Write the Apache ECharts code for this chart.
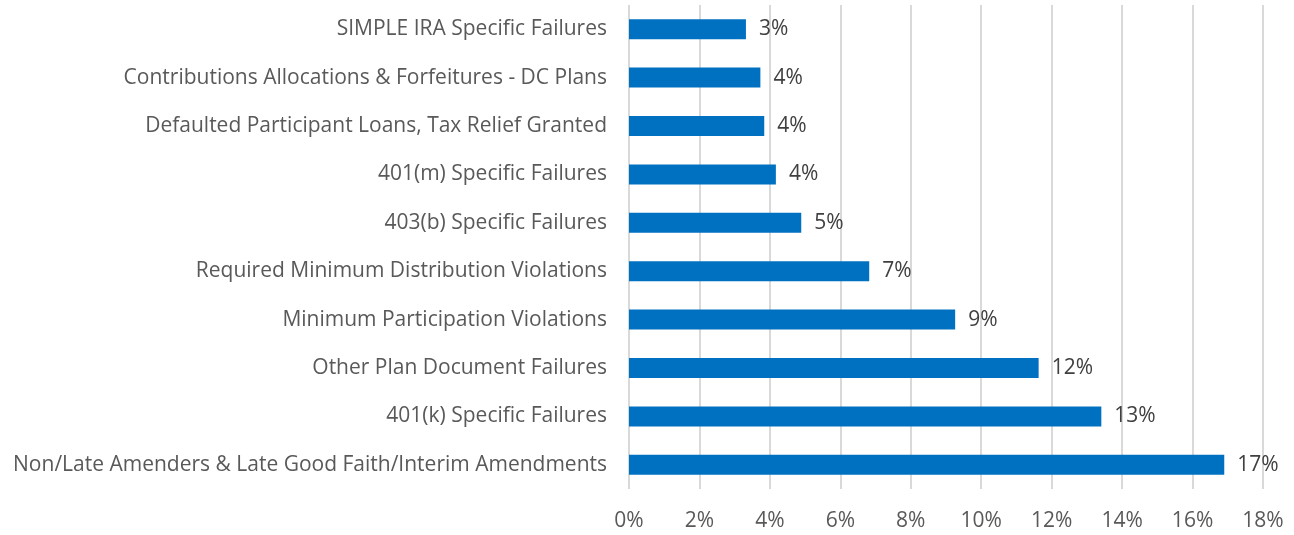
<!DOCTYPE html>
<html>
<head>
<meta charset="utf-8">
<script src="https://cdn.jsdelivr.net/npm/echarts@6/dist/echarts.min.js"></script>
<style>
html,body{margin:0;padding:0;background:#fff;}
#chart{width:1294px;height:535px;}
</style>
</head>
<body>
<div id="chart"></div>
<script>
// categories, bottom to top
var categories = [
    'Non/Late Amenders & Late Good Faith/Interim Amendments',
    '401(k) Specific Failures',
    'Other Plan Document Failures',
    'Minimum Participation Violations',
    'Required Minimum Distribution Violations',
    '403(b) Specific Failures',
    '401(m) Specific Failures',
    'Defaulted Participant Loans, Tax Relief Granted',
    'Contributions Allocations & Forfeitures - DC Plans',
    'SIMPLE IRA Specific Failures'
];
// percent values
var values = [16.9, 13.41, 11.63, 9.26, 6.82, 4.89, 4.17, 3.84, 3.73, 3.32];
var xTicks = [0, 2, 4, 6, 8, 10, 12, 14, 16, 18];

var fontFam = '"Open Sans", sans-serif';
var myChart = echarts.init(document.getElementById('chart'));
var option = {
    animation: false,
    grid: { left: 629, right: 31, top: 5, bottom: 46, containLabel: false },
    xAxis: {
        type: 'value',
        min: xTicks[0],
        max: xTicks[xTicks.length - 1],
        interval: 2,
        axisLine: { show: false },
        axisTick: { show: false },
        splitLine: { lineStyle: { color: '#d9d9d9', width: 2 } },
        axisLabel: {
            margin: 22,
            color: '#595959',
            fontSize: 21,
            fontFamily: fontFam,
            formatter: function (v) { return v + '%'; }
        }
    },
    yAxis: {
        type: 'category',
        data: categories,
        axisLine: { show: false },
        axisTick: { show: false },
        axisLabel: {
            margin: 22,
            color: '#595959',
            fontSize: 21,
            fontFamily: fontFam
        }
    },
    series: [{
        type: 'bar',
        data: values,
        barWidth: 20,
        itemStyle: { color: '#0070C0' },
        label: {
            show: true,
            position: 'right',
            distance: 13,
            color: '#404040',
            fontSize: 21,
            fontFamily: fontFam,
            formatter: function (p) { return Math.round(p.value) + '%'; }
        }
    }]
};
myChart.setOption(option);
</script>
</body>
</html>
